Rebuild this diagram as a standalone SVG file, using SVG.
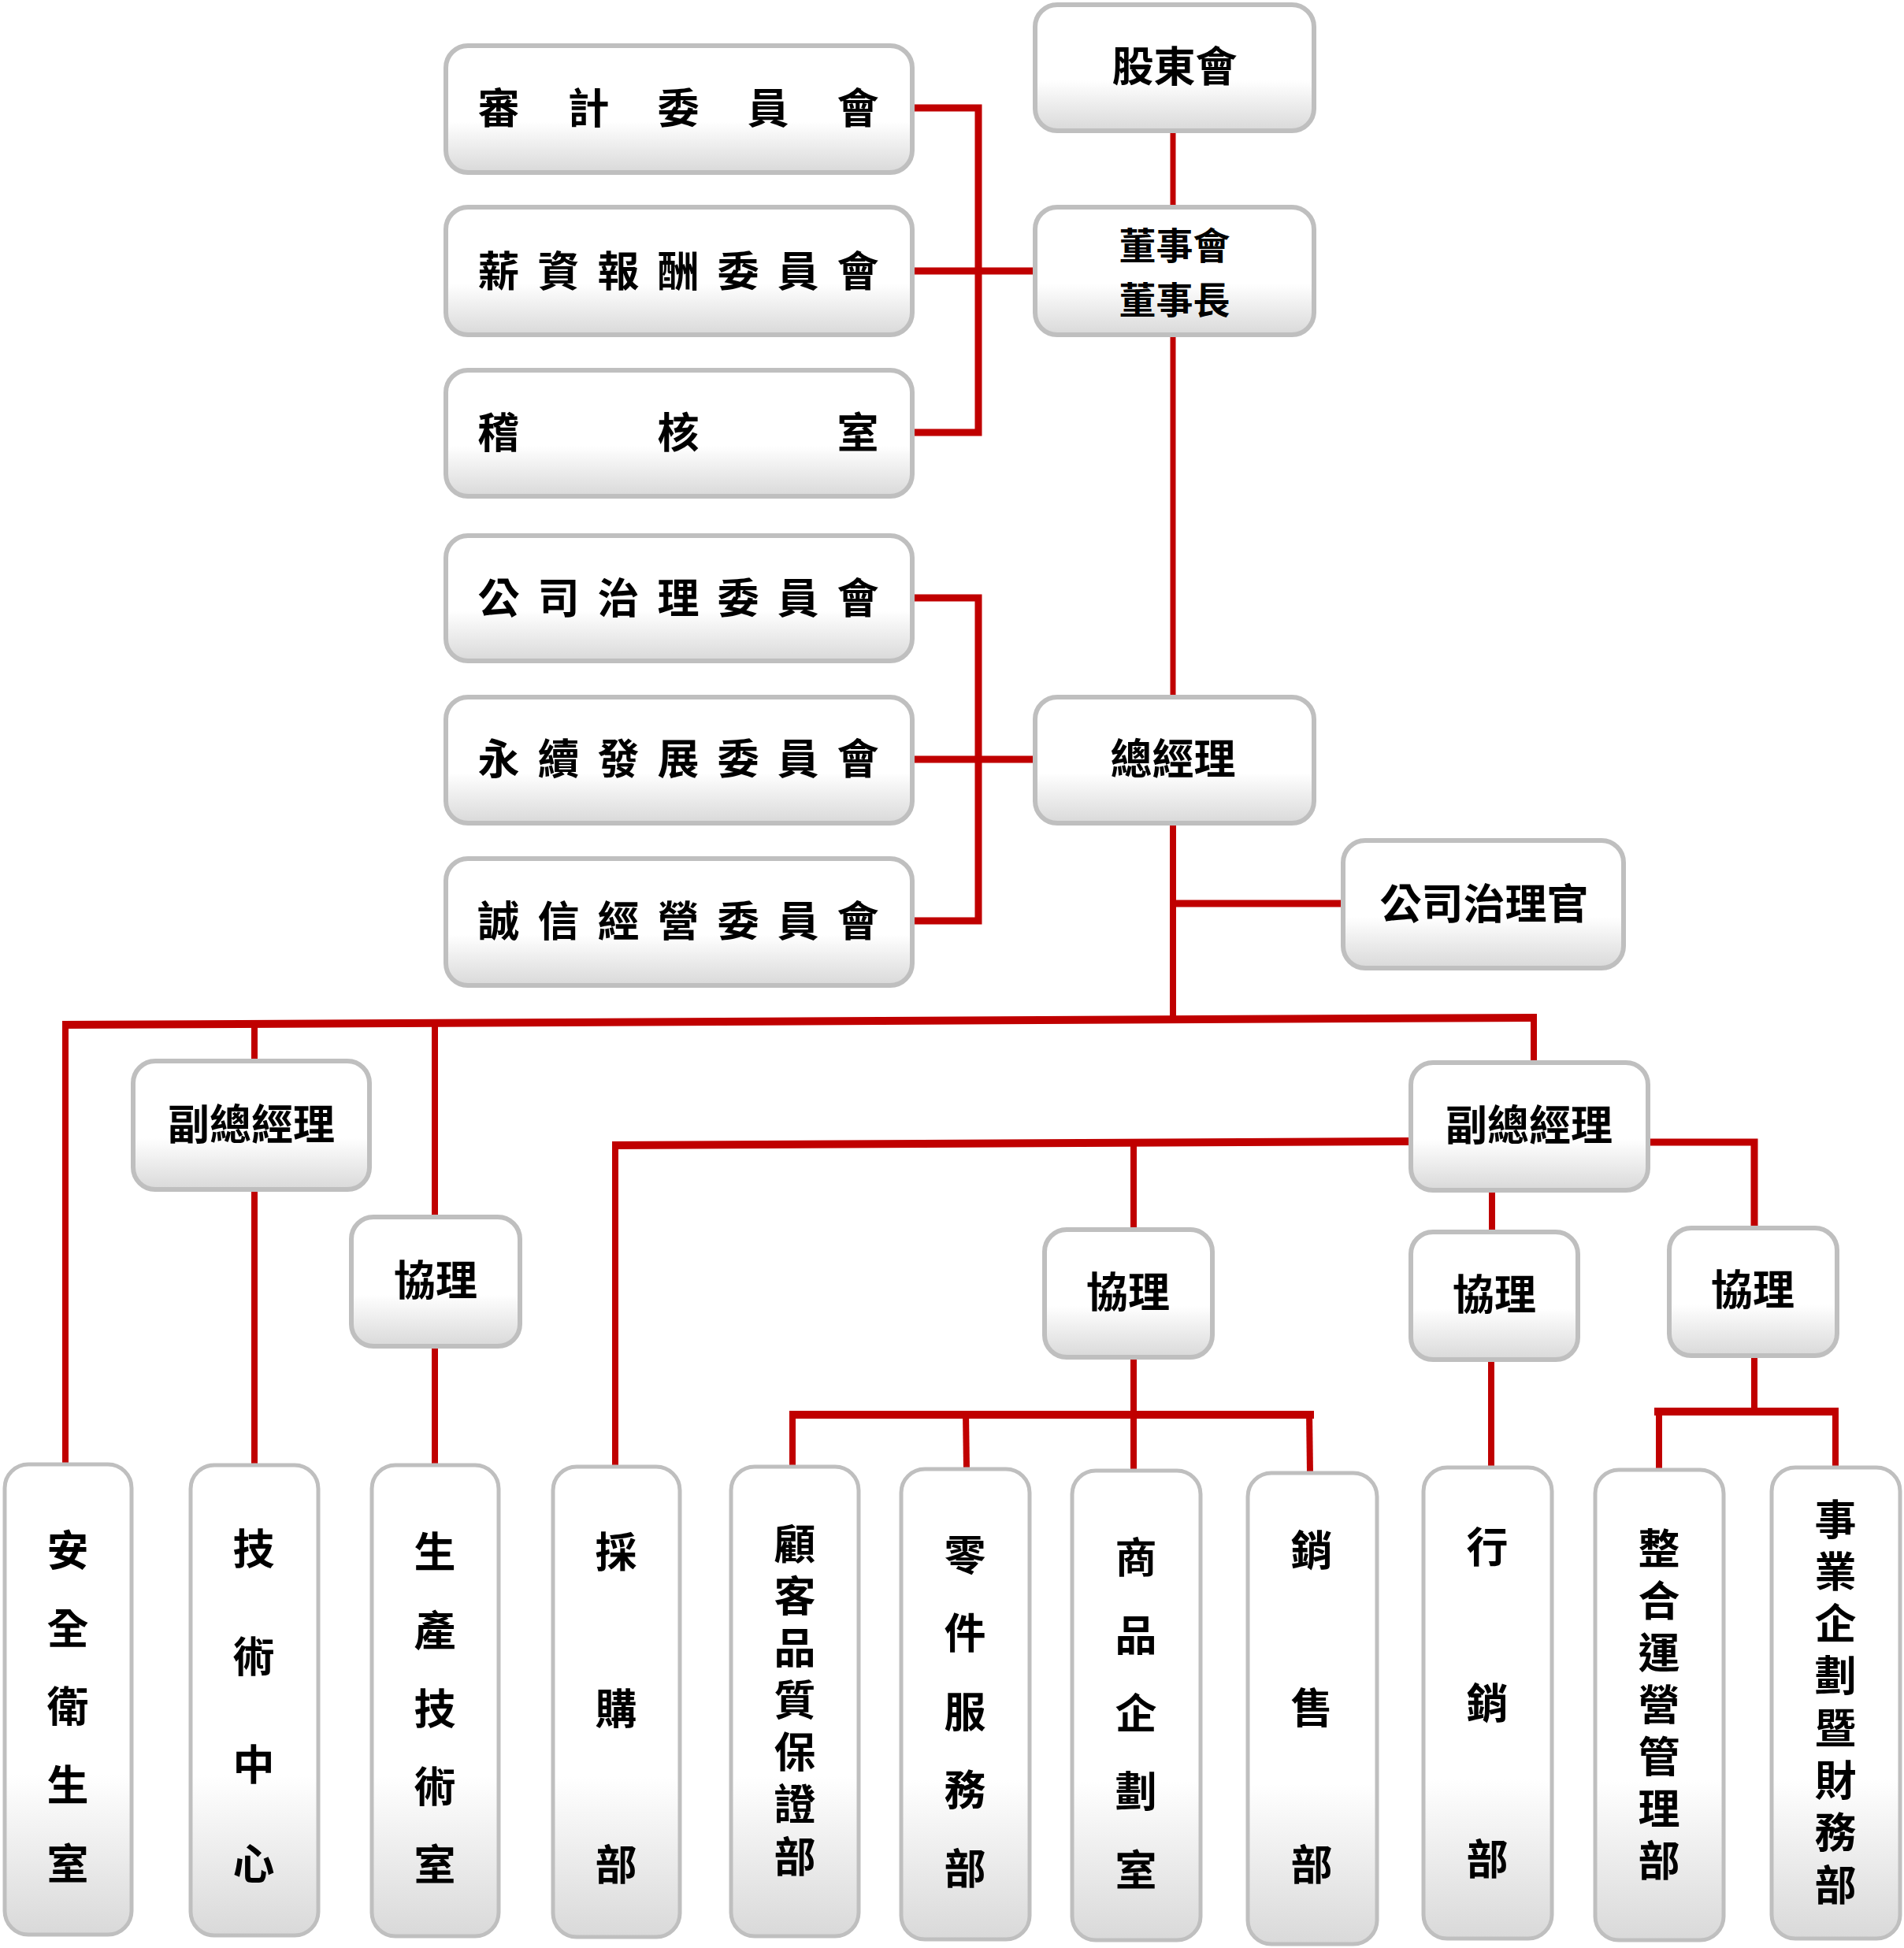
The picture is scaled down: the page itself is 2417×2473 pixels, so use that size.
<svg xmlns="http://www.w3.org/2000/svg" width="2417" height="2473" viewBox="0 0 2417 2473">
<defs>
<linearGradient id="g" x1="0" y1="0" x2="0" y2="1">
<stop offset="0" stop-color="#ffffff"/>
<stop offset="0.6" stop-color="#ffffff"/>
<stop offset="1" stop-color="#d9d9d9"/>
</linearGradient>
<linearGradient id="gv" x1="0" y1="0" x2="0" y2="1">
<stop offset="0" stop-color="#ffffff"/>
<stop offset="0.66" stop-color="#ffffff"/>
<stop offset="1" stop-color="#d9d9d9"/>
</linearGradient>
<style>
.b{fill:url(#g);stroke:#bfbfbf;stroke-width:6}
.v{fill:url(#gv);stroke:#bfbfbf;stroke-width:5}
.t{font-family:"Noto Sans CJK TC","Noto Sans CJK SC",sans-serif;font-size:53px;font-weight:700;fill:#000;text-anchor:middle;dominant-baseline:central;transform:translateY(-3px)}
.t2{font-size:47px}
.c line,.c polyline{stroke:#c00000;fill:none}
</style>
</defs>
<rect width="2417" height="2473" fill="#ffffff"/>
<g class="c">
<line x1="1489" y1="166" x2="1489" y2="263" stroke-width="7"/>
<line x1="1489" y1="425" x2="1489" y2="885" stroke-width="7"/>
<polyline points="1158,137 1242,137 1242,549 1158,549" stroke-width="9"/>
<line x1="1158" y1="344" x2="1314" y2="344" stroke-width="9"/>
<polyline points="1158,759 1242,759 1242,1169 1158,1169" stroke-width="9"/>
<line x1="1158" y1="964" x2="1314" y2="964" stroke-width="9"/>
<line x1="1489" y1="1045" x2="1489" y2="1297" stroke-width="8"/>
<line x1="1489" y1="1147" x2="1705" y2="1147" stroke-width="9"/>
<line x1="79" y1="1301" x2="1951" y2="1292" stroke-width="10"/>
<line x1="83" y1="1296" x2="83" y2="1859" stroke-width="8"/>
<line x1="323" y1="1300" x2="323" y2="1347" stroke-width="8"/>
<line x1="323" y1="1510" x2="323" y2="1860" stroke-width="8"/>
<line x1="552" y1="1300" x2="552" y2="1545" stroke-width="8"/>
<line x1="552" y1="1709" x2="552" y2="1860" stroke-width="8"/>
<line x1="1947" y1="1288" x2="1947" y2="1349" stroke-width="8"/>
<line x1="777" y1="1454" x2="1791" y2="1449" stroke-width="10"/>
<line x1="781" y1="1450" x2="781" y2="1862" stroke-width="8"/>
<line x1="1439" y1="1452" x2="1439" y2="1561" stroke-width="8"/>
<polyline points="2092,1450 2227,1450 2227,1559" stroke-width="9"/>
<line x1="1894" y1="1511" x2="1894" y2="1564" stroke-width="8"/>
<line x1="1893" y1="1726" x2="1893" y2="1864" stroke-width="8"/>
<line x1="1439" y1="1723" x2="1439" y2="1796" stroke-width="8"/>
<line x1="1002" y1="1796" x2="1668" y2="1796" stroke-width="10"/>
<line x1="1006" y1="1792" x2="1006" y2="1862" stroke-width="8"/>
<line x1="1226" y1="1792" x2="1227" y2="1866" stroke-width="8"/>
<line x1="1439" y1="1792" x2="1439" y2="1868" stroke-width="8"/>
<line x1="1662" y1="1792" x2="1663" y2="1871" stroke-width="8"/>
<line x1="2227" y1="1721" x2="2227" y2="1792" stroke-width="8"/>
<line x1="2100" y1="1792" x2="2334" y2="1792" stroke-width="10"/>
<line x1="2106" y1="1788" x2="2106" y2="1867" stroke-width="8"/>
<line x1="2330" y1="1788" x2="2330" y2="1864" stroke-width="8"/>
</g>
<g id="n-gudong"><rect class="b" x="1314" y="6" width="354" height="160" rx="28"/><text class="t" x="1491" y="84">股東會</text></g>
<g id="n-dongshi"><rect class="b" x="1314" y="263" width="354" height="162" rx="28"/><text class="t t2" x="1491" y="311">董事會</text><text class="t t2" x="1491" y="380">董事長</text></g>
<g id="n-shenji"><rect class="b" x="566" y="58" width="592" height="161" rx="28"/><text class="t" x="633 747 861 975 1089" y="137 137 137 137 137">審計委員會</text></g>
<g id="n-xinzi"><rect class="b" x="566" y="263" width="592" height="162" rx="28"/><text class="t" x="633 709 785 861 937 1013 1089" y="344 344 344 344 344 344 344">薪資報酬委員會</text></g>
<g id="n-jihe"><rect class="b" x="566" y="470" width="592" height="160" rx="28"/><text class="t" x="633 861 1089" y="549 549 549">稽核室</text></g>
<g id="n-gongsizhili"><rect class="b" x="566" y="680" width="592" height="159" rx="28"/><text class="t" x="633 709 785 861 937 1013 1089" y="759 759 759 759 759 759 759">公司治理委員會</text></g>
<g id="n-yongxu"><rect class="b" x="566" y="885" width="592" height="160" rx="28"/><text class="t" x="633 709 785 861 937 1013 1089" y="963 963 963 963 963 963 963">永續發展委員會</text></g>
<g id="n-chengxin"><rect class="b" x="566" y="1090" width="592" height="161" rx="28"/><text class="t" x="633 709 785 861 937 1013 1089" y="1169 1169 1169 1169 1169 1169 1169">誠信經營委員會</text></g>
<g id="n-zongjingli"><rect class="b" x="1314" y="885" width="354" height="160" rx="28"/><text class="t" x="1489" y="963">總經理</text></g>
<g id="n-zhiliguan"><rect class="b" x="1705" y="1067" width="356" height="162" rx="28"/><text class="t" x="1884" y="1147">公司治理官</text></g>
<g id="n-fuzong-l"><rect class="b" x="169" y="1347" width="300" height="163" rx="28"/><text class="t" x="319" y="1427">副總經理</text></g>
<g id="n-xieli-l"><rect class="b" x="446" y="1545" width="214" height="164" rx="28"/><text class="t" x="553" y="1625">協理</text></g>
<g id="n-fuzong-r"><rect class="b" x="1791" y="1349" width="301" height="162" rx="28"/><text class="t" x="1941" y="1428">副總經理</text></g>
<g id="n-xieli-a"><rect class="b" x="1326" y="1561" width="213" height="162" rx="28"/><text class="t" x="1432" y="1640">協理</text></g>
<g id="n-xieli-b"><rect class="b" x="1791" y="1564" width="212" height="162" rx="28"/><text class="t" x="1897" y="1643">協理</text></g>
<g id="n-xieli-c"><rect class="b" x="2119" y="1559" width="213" height="162" rx="28"/><text class="t" x="2225" y="1637">協理</text></g>
<g id="n-anquan"><rect class="v" x="6" y="1859" width="161" height="597" rx="30"/><text class="t" x="86 86 86 86 86" y="1968 2067 2166 2266 2366">安全衛生室</text></g>
<g id="n-jishu"><rect class="v" x="242" y="1860" width="162" height="597" rx="30"/><text class="t" x="322 322 322 322" y="1966 2103 2240 2366">技術中心</text></g>
<g id="n-shengchan"><rect class="v" x="472" y="1860" width="161" height="598" rx="30"/><text class="t" x="552 552 552 552 552" y="1970 2070 2169 2268 2367">生產技術室</text></g>
<g id="n-caigou"><rect class="v" x="702" y="1862" width="161" height="597" rx="30"/><text class="t" x="782 782 782" y="1970 2169 2367">採購部</text></g>
<g id="n-guke"><rect class="v" x="928" y="1862" width="162" height="596" rx="30"/><text class="t" x="1009 1009 1009 1009 1009 1009 1009" y="1960 2026 2092 2158 2224 2290 2357">顧客品質保證部</text></g>
<g id="n-lingjian"><rect class="v" x="1144" y="1865" width="163" height="597" rx="30"/><text class="t" x="1225 1225 1225 1225 1225" y="1974 2073 2173 2272 2372">零件服務部</text></g>
<g id="n-shangpin"><rect class="v" x="1361" y="1867" width="163" height="596" rx="30"/><text class="t" x="1442 1442 1442 1442 1442" y="1977 2076 2175 2274 2374">商品企劃室</text></g>
<g id="n-xiaoshou"><rect class="v" x="1584" y="1870" width="164" height="598" rx="30"/><text class="t" x="1665 1665 1665" y="1968 2168 2367">銷售部</text></g>
<g id="n-xingxiao"><rect class="v" x="1807" y="1863" width="163" height="598" rx="30"/><text class="t" x="1888 1888 1888" y="1964 2162 2360">行銷部</text></g>
<g id="n-zhenghe"><rect class="v" x="2025" y="1866" width="163" height="597" rx="30"/><text class="t" x="2106 2106 2106 2106 2106 2106 2106" y="1966 2032 2098 2164 2230 2296 2362">整合運營管理部</text></g>
<g id="n-shiye"><rect class="v" x="2249" y="1863" width="163" height="598" rx="30"/><text class="t" x="2330 2330 2330 2330 2330 2330 2330 2330" y="1929 1995 2061 2127 2194 2260 2326 2393">事業企劃暨財務部</text></g>
</svg>
